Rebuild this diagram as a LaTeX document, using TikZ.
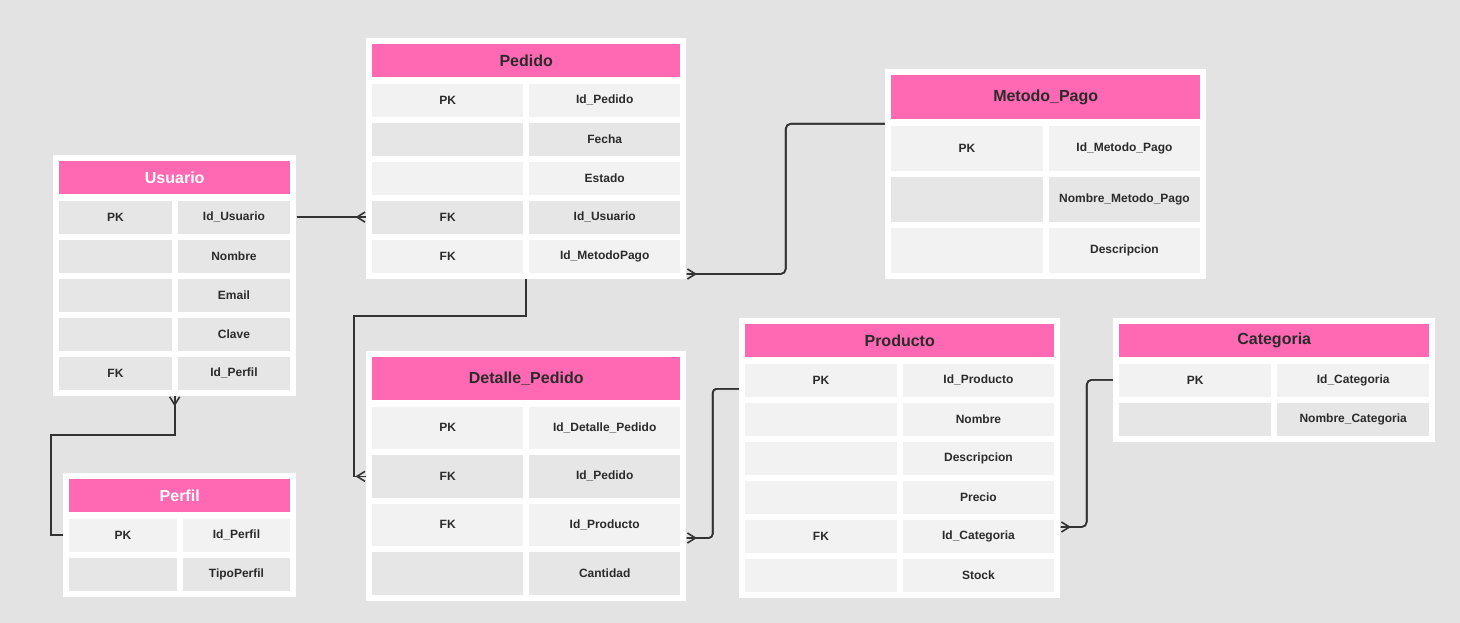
\documentclass[tikz,border=0pt]{standalone}
\usepackage{fontspec}
\setmainfont{Liberation Sans}
\usetikzlibrary{arrows.meta,calc,fit,positioning}
\pgfdeclarelayer{frames}
\pgfsetlayers{frames,main}
\definecolor{bggray}{HTML}{E3E3E3}
\definecolor{pinkbar}{HTML}{FF69B4}
\definecolor{rowA}{HTML}{F2F2F2}
\definecolor{rowB}{HTML}{E6E6E6}
\definecolor{textdark}{HTML}{2B2B2B}
\definecolor{linedark}{HTML}{333333}

\tikzset{
  titlebar/.style={fill=pinkbar, inner sep=0pt, anchor=north west, text=textdark, font=\bfseries\fontsize{16}{16}\selectfont},
  cell/.style={inner sep=0pt, text=textdark, font=\bfseries\fontsize{12}{12}\selectfont},
  frame/.style={fill=white, draw=none, inner sep=6pt},
  link/.style={draw=linedark, line width=1.6pt},
  crow/.style={-{Straight Barb[reversed, length=8pt, width=10pt]},
    postaction={draw=linedark, line width=1.6pt, arrows=-}},
}

% #1 name, #2/#3 title corner, #4 width, #5 title height, #6 row height, #7 title style, #8 title, #9 rows
\newcommand{\erentity}[9]{%
  \node[titlebar, #7, minimum width=#4, minimum height=#5] (#1-t) at (#2,#3) {#8};
  \foreach \rk/\rf/\rc [count=\i from 0] in {#9} {
    \node[cell, fill=\rc, anchor=north west, minimum width={(#4-6)/2}, minimum height=#6]
      (#1-k\i) at ($(#1-t.south west)+(0,{6+\i*(#6+6)})$) {\rk};
    \node[cell, fill=\rc, anchor=north east, minimum width={(#4-6)/2}, minimum height=#6]
      (#1-f\i) at ($(#1-t.south east)+(0,{6+\i*(#6+6)})$) {\rf};
    \xdef\lastrow{\i}
  }
  \begin{pgfonlayer}{frames}
    \node[frame, fit=(#1-t)(#1-f\lastrow)] (#1) {};
  \end{pgfonlayer}
}

\begin{document}
\begin{tikzpicture}[x=1pt, y=-1pt]
\useasboundingbox (0,0) rectangle (1460,623);
\begin{pgfonlayer}{frames}
  \fill[bggray] (0,0) rectangle (1460,623);
\end{pgfonlayer}

% tables
\erentity{usuario}{59}{161}{231}{33}{33}{text=white}{Usuario}
  {PK/Id\_Usuario/rowB, {}/Nombre/rowB, {}/Email/rowB, {}/Clave/rowB, FK/Id\_Perfil/rowB}
\erentity{perfil}{69}{479}{221}{33}{33}{text=white}{Perfil}
  {PK/Id\_Perfil/rowA, {}/TipoPerfil/rowB}
\erentity{pedido}{372}{44}{308}{33}{33}{}{Pedido}
  {PK/Id\_Pedido/rowA, {}/Fecha/rowB, {}/Estado/rowA, FK/Id\_Usuario/rowB, FK/Id\_MetodoPago/rowA}
\erentity{metodo}{891}{75}{309}{44}{45}{}{Metodo\_Pago}
  {PK/Id\_Metodo\_Pago/rowA, {}/Nombre\_Metodo\_Pago/rowB, {}/Descripcion/rowA}
\erentity{detalle}{372}{357}{308}{43}{42.5}{}{Detalle\_Pedido}
  {PK/Id\_Detalle\_Pedido/rowA, FK/Id\_Pedido/rowB, FK/Id\_Producto/rowA, {}/Cantidad/rowB}
\erentity{producto}{745}{324}{309}{33}{33}{}{Producto}
  {PK/Id\_Producto/rowA, {}/Nombre/rowA, {}/Descripcion/rowA, {}/Precio/rowA, FK/Id\_Categoria/rowA, {}/Stock/rowA}
\erentity{categoria}{1119}{324}{310}{33}{33}{}{Categoria}
  {PK/Id\_Categoria/rowA, {}/Nombre\_Categoria/rowB}

% relations
\coordinate (pm-a) at ([yshift=5pt]pedido.south east);
\coordinate (pm-b) at ([yshift=-55pt]metodo.north west);
\coordinate (dp-a) at ([yshift=63pt]detalle.south east);
\coordinate (dp-b) at ([yshift=-71pt]producto.north west);
\coordinate (pc-a) at ([yshift=71pt]producto.south east);
\coordinate (pc-b) at ([yshift=-62pt]categoria.north west);

\draw[link, crow] (usuario.east |- usuario-f0) -- (pedido.west |- pedido-f3);
\draw[link, crow] (perfil.west |- perfil-k0) -- ++(-12,0) |- ([yshift=-39pt]usuario.south) -- (usuario.south);
\draw[link, crow] (pedido.south) -- ++(0,37) -| ([xshift=-12pt]detalle.west |- detalle-k1) -- (detalle.west |- detalle-k1);
\draw[link, crow, rounded corners=5pt] (pm-b) -| ($(pm-a)!.5!(pm-b)$) |- (pm-a);
\draw[link, crow, rounded corners=4pt] (dp-b) -| ($(dp-a)!.5!(dp-b)$) |- (dp-a);
\draw[link, crow, rounded corners=5pt] (pc-b) -| ($(pc-a)!.5!(pc-b)$) |- (pc-a);
\end{tikzpicture}
\end{document}
